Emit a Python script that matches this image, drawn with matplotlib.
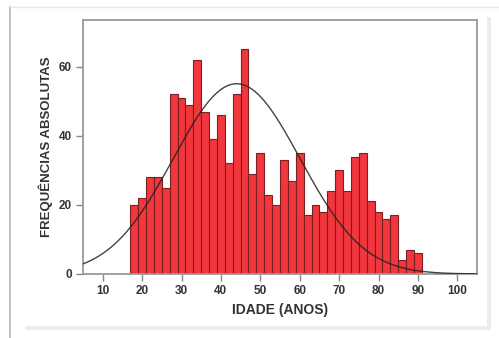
import numpy as np
import matplotlib
matplotlib.use("Agg")
import matplotlib.pyplot as plt
from matplotlib.patches import Rectangle
from matplotlib.lines import Line2D

# Data: age bins (left edges, width 2 years) and absolute frequencies
bin_left = list(range(17, 91, 2))
counts = [20, 22, 28, 28, 25, 52, 51, 49, 62, 47, 39, 46, 32, 52, 65, 29, 35,
          23, 20, 33, 27, 35, 17, 20, 18, 24, 30, 24, 34, 35, 21, 18, 16, 17,
          4, 7, 6]
bin_width = 2
# Normal curve fit parameters (mean, std. dev.)
fit_mean = 44.0
fit_sd = 16.1

x_ticks = [10, 20, 30, 40, 50, 60, 70, 80, 90, 100]
y_ticks = [0, 20, 40, 60]

plt.rcParams['font.family'] = ['Liberation Sans', 'DejaVu Sans']

fig = plt.figure(figsize=(4.99, 3.38), dpi=100)
fig.patch.set_facecolor('white')

# screenshot-like frame
fig.add_artist(Line2D([10/499, 10/499], [0, 1 - 7/338], transform=fig.transFigure, color='#b8b8b8', lw=1.2))
fig.add_artist(Line2D([10/499, 499/499], [1 - 7/338, 1 - 7/338], transform=fig.transFigure, color='#e8e8e8', lw=1.0))
fig.add_artist(Rectangle((487/499, (338-328)/338), 4/499, (328-17)/338, transform=fig.transFigure,
                         facecolor='#ececec', edgecolor='none'))
fig.add_artist(Rectangle((25/499, (338-330)/338), 466/499, 4/338, transform=fig.transFigure,
                         facecolor='#ececec', edgecolor='none'))

ax = fig.add_axes([83/499, (338-274)/338, (477-83)/499, (274-20)/338])

ax.bar(bin_left, counts, width=bin_width, align='edge', color='#f2363d',
       edgecolor='#7a2020', linewidth=0.8, zorder=2)

total = sum(counts)
xs = np.linspace(5, 105, 400)
ys = total * bin_width / (fit_sd * np.sqrt(2 * np.pi)) * np.exp(-0.5 * ((xs - fit_mean) / fit_sd) ** 2)
ax.plot(xs, ys, color='#222222', lw=1.0, alpha=0.85, zorder=3)

ax.set_xlim(5, 105)
ax.set_ylim(0, 73.5)
ax.set_xticks(x_ticks)
ax.set_yticks(y_ticks)
ax.tick_params(axis='both', direction='out', length=5, width=1, color='#888888',
               labelsize=8.5, labelcolor='#333333', pad=3)
for lab in ax.get_xticklabels() + ax.get_yticklabels():
    lab.set_fontweight('bold')
for sp in ax.spines.values():
    sp.set_color('#999999')
    sp.set_linewidth(1.3)

ax.set_xlabel('IDADE (ANOS)', fontsize=10, fontweight='bold', color='#333333', labelpad=4)
ax.set_ylabel('FREQUÊNCIAS ABSOLUTAS', fontsize=9.5, fontweight='bold', color='#333333', labelpad=4)

fig.savefig('out.png', dpi=100)
